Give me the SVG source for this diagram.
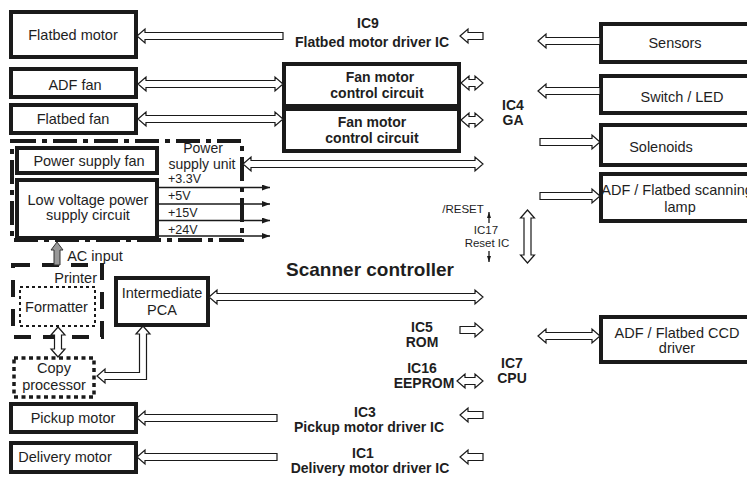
<svg xmlns="http://www.w3.org/2000/svg" width="747" height="477" viewBox="0 0 747 477">
<style>
text{font-family:"Liberation Sans",Arial,sans-serif;fill:#1e1e1e;text-anchor:middle;font-size:14.5px}
.b{font-weight:bold;font-size:14px}
.sc{font-weight:bold;font-size:19px}
.s{font-size:11.5px}
.p{font-size:14px}
.v{font-size:12.5px;text-anchor:start}
.e{text-anchor:end}
.box{fill:#fff;stroke:#1a1a1a;stroke-width:4}
.psu{fill:none;stroke:#1a1a1a;stroke-width:4;stroke-dasharray:24 6 5 6}
.prn{fill:none;stroke:#1a1a1a;stroke-width:4;stroke-dasharray:17 12}
.fmt{fill:#fff;stroke:#1a1a1a;stroke-width:2;stroke-dasharray:3 3}
.cp{fill:#fff;stroke:#1a1a1a;stroke-width:3.5;stroke-dasharray:4 3.5}
.ha{fill:#fff;stroke:#1a1a1a;stroke-width:1.2;stroke-linejoin:miter}
.ln{stroke:#1a1a1a;stroke-width:1.3;fill:none}
.ac{fill:#999;stroke:#333;stroke-width:1}
</style>
<defs>
<marker id="ah" markerWidth="8" markerHeight="6" refX="8" refY="3" orient="auto" markerUnits="userSpaceOnUse"><path d="M0,0 L8,3 L0,6 Z" fill="#1a1a1a"/></marker>
<marker id="sa" markerWidth="6" markerHeight="4" refX="6" refY="2" orient="auto" markerUnits="userSpaceOnUse"><path d="M0,0 L6,2 L0,4 Z" fill="#1a1a1a"/></marker>
</defs>
<rect width="747" height="477" fill="#fff"/>

<g id="flatbed-motor"><rect class="box" x="11" y="12" width="125" height="45"/><text x="73" y="40">Flatbed motor</text></g>
<g id="adf-fan"><rect class="box" x="11" y="69" width="125" height="28"/><text x="75" y="90">ADF fan</text></g>
<g id="flatbed-fan"><rect class="box" x="11" y="105" width="125" height="28"/><text x="73" y="124">Flatbed fan</text></g>
<g id="power-supply-unit"><rect class="psu" x="12" y="141" width="230" height="99"/><text class="p" x="203" y="153">Power</text><text class="p" x="202" y="169">supply unit</text>
<text class="v" x="168" y="183">+3.3V</text><text class="v" x="168" y="200">+5V</text><text class="v" x="168" y="217">+15V</text><text class="v" x="168" y="234">+24V</text></g>
<g id="power-supply-fan"><rect class="box" x="17" y="148" width="140" height="25"/><text x="89" y="166">Power supply fan</text></g>
<g id="low-voltage"><rect class="box" x="17" y="180" width="140" height="58"/><text x="88" y="205">Low voltage power</text><text x="88" y="220">supply circuit</text></g>
<g id="ac-input"><text x="95" y="261">AC input</text></g>
<g id="printer"><rect class="prn" x="13" y="265" width="89" height="72"/><text class="e" x="97" y="283">Printer</text></g>
<g id="formatter"><rect class="fmt" x="20" y="287" width="75" height="39"/><text x="56.5" y="312">Formatter</text></g>
<g id="intermediate-pca"><rect class="box" x="116" y="278" width="92" height="47"/><text x="162" y="298">Intermediate</text><text x="162" y="315">PCA</text></g>
<g id="copy-processor"><rect class="cp" x="14" y="358" width="80" height="39"/><text x="54" y="373">Copy</text><text x="54" y="390">processor</text></g>
<g id="pickup-motor"><rect class="box" x="11" y="404" width="125" height="28"/><text x="73" y="423">Pickup motor</text></g>
<g id="delivery-motor"><rect class="box" x="11" y="443" width="125" height="29"/><text x="65" y="462">Delivery motor</text></g>

<g id="ic9"><text class="b" x="368" y="28">IC9</text><text class="b" x="372" y="47">Flatbed motor driver IC</text></g>
<g id="fan-ctrl-1"><rect class="box" x="284" y="64" width="175" height="42"/><text class="b" x="380" y="82">Fan motor</text><text class="b" x="377" y="98">control circuit</text></g>
<g id="fan-ctrl-2"><rect class="box" x="284" y="109" width="175" height="42"/><text class="b" x="372" y="127">Fan motor</text><text class="b" x="372" y="143">control circuit</text></g>
<g id="ic4"><text class="b" x="513" y="110">IC4</text><text class="b" x="513" y="125">GA</text></g>
<g id="ic17"><text class="s" x="463" y="213">/RESET</text><text class="s" x="486" y="234">IC17</text><text class="s" x="487" y="247">Reset IC</text></g>
<g id="scanner-controller"><text class="sc" x="370" y="276">Scanner controller</text></g>
<g id="ic5"><text class="b" x="422" y="332">IC5</text><text class="b" x="422" y="347">ROM</text></g>
<g id="ic16"><text class="b" x="422" y="373">IC16</text><text class="b" x="424" y="388">EEPROM</text></g>
<g id="ic7"><text class="b" x="512" y="368">IC7</text><text class="b" x="512" y="383">CPU</text></g>
<g id="ic3"><text class="b" x="365" y="417">IC3</text><text class="b" x="369" y="432">Pickup motor driver IC</text></g>
<g id="ic1"><text class="b" x="363" y="458">IC1</text><text class="b" x="370" y="473">Delivery motor driver IC</text></g>

<g id="sensors"><rect class="box" x="601" y="24" width="170" height="38"/><text x="675" y="48">Sensors</text></g>
<g id="switch-led"><rect class="box" x="601" y="76" width="170" height="37"/><text x="682" y="102">Switch / LED</text></g>
<g id="solenoids"><rect class="box" x="601" y="125" width="170" height="40"/><text x="661" y="152">Solenoids</text></g>
<g id="lamp"><rect class="box" x="601" y="174" width="170" height="47"/><text x="677" y="195">ADF / Flatbed scanning</text><text x="680" y="212">lamp</text></g>
<g id="ccd-driver"><rect class="box" x="601" y="317" width="170" height="45"/><text x="677" y="338">ADF / Flatbed CCD</text><text x="677" y="353">driver</text></g>

<g id="connectors">
<path class="ha" d="M137,36 L145,29 L145,32.5 L283,32.5 L283,39.5 L145,39.5 L145,43 Z"/>
<path class="ha" d="M460,36 L468,29 L468,32.5 L483,32.5 L483,39.5 L468,39.5 L468,43 Z"/>
<path class="ha" d="M538,41 L546,34 L546,37.5 L600,37.5 L600,44.5 L546,44.5 L546,48 Z"/>
<path class="ha" d="M538,91 L546,84 L546,87.5 L600,87.5 L600,94.5 L546,94.5 L546,98 Z"/>
<path class="ha" d="M138,84 L146,77 L146,80.5 L275,80.5 L275,77 L283,84 L275,91 L275,87.5 L146,87.5 L146,91 Z"/>
<path class="ha" d="M138,119 L146,112 L146,115.5 L275,115.5 L275,112 L283,119 L275,126 L275,122.5 L146,122.5 L146,126 Z"/>
<path class="ha" d="M461,83 L469,76 L469,79.5 L475,79.5 L475,76 L483,83 L475,90 L475,86.5 L469,86.5 L469,90 Z"/>
<path class="ha" d="M461,120 L469,113 L469,116.5 L475,116.5 L475,113 L483,120 L475,127 L475,123.5 L469,123.5 L469,127 Z"/>
<path class="ha" d="M600,142 L592,135 L592,138.5 L540,138.5 L540,145.5 L592,145.5 L592,149 Z"/>
<path class="ha" d="M243,164 L251,157 L251,160.5 L475,160.5 L475,157 L483,164 L475,171 L475,167.5 L251,167.5 L251,171 Z"/>
<path class="ha" d="M600,196 L592,189 L592,192.5 L540,192.5 L540,199.5 L592,199.5 L592,203 Z"/>
<path class="ha" d="M527.5,210 L534.5,218 L531,218 L531,255 L534.5,255 L527.5,263 L520.5,255 L524,255 L524,218 L520.5,218 Z"/>
<path class="ha" d="M209,297 L217,290 L217,293.5 L475,293.5 L475,290 L483,297 L475,304 L475,300.5 L217,300.5 L217,304 Z"/>
<path class="ha" d="M483,330 L475,323 L475,326.5 L460,326.5 L460,333.5 L475,333.5 L475,337 Z"/>
<path class="ha" d="M538,336 L546,329 L546,332.5 L592,332.5 L592,329 L600,336 L592,343 L592,339.5 L546,339.5 L546,343 Z"/>
<path class="ha" d="M457,381 L465,374 L465,377.5 L475,377.5 L475,374 L483,381 L475,388 L475,384.5 L465,384.5 L465,388 Z"/>
<path class="ha" d="M460,415 L468,408 L468,411.5 L483,411.5 L483,418.5 L468,418.5 L468,422 Z"/>
<path class="ha" d="M137,418 L145,411 L145,414.5 L277,414.5 L277,421.5 L145,421.5 L145,425 Z"/>
<path class="ha" d="M460,457 L468,450 L468,453.5 L483,453.5 L483,460.5 L468,460.5 L468,464 Z"/>
<path class="ha" d="M137,457 L145,450 L145,453.5 L277,453.5 L277,460.5 L145,460.5 L145,464 Z"/>
<path class="ha" d="M58,327 L65,335 L61.5,335 L61.5,349 L65,349 L58,357 L51,349 L54.5,349 L54.5,335 L51,335 Z"/>
<path class="ha" d="M143,326 L150,334 L146.5,334 L146.5,379.5 L105,379.5 L105,383 L97,376 L105,369 L105,372.5 L139.5,372.5 L139.5,334 L136,334 Z"/>
<path class="ac" d="M57,242 L63,250 L60,250 L60,265 L54,265 L54,250 L51,250 Z"/>
<line class="ln" x1="157" y1="187.5" x2="270" y2="187.5" marker-end="url(#ah)"/>
<line class="ln" x1="157" y1="204" x2="270" y2="204" marker-end="url(#ah)"/>
<line class="ln" x1="157" y1="220.5" x2="270" y2="220.5" marker-end="url(#ah)"/>
<line class="ln" x1="157" y1="236" x2="270" y2="236" marker-end="url(#ah)"/>
<line class="ln" x1="489" y1="223" x2="489" y2="212" stroke-width="1" marker-end="url(#sa)"/>
<line class="ln" x1="489" y1="251" x2="489" y2="262" stroke-width="1" marker-end="url(#sa)"/>
</g>
</svg>
